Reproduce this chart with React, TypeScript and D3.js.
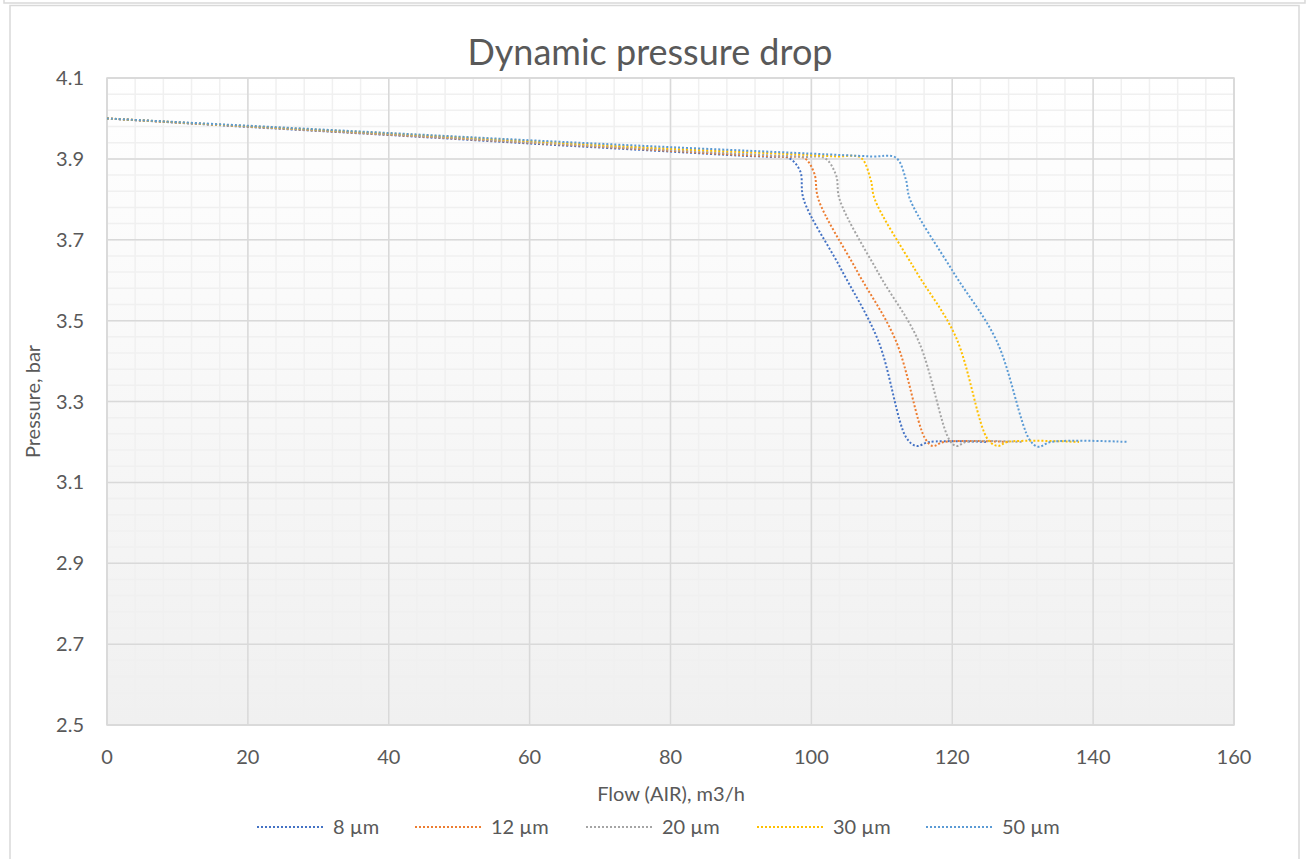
import React from "react";
import * as d3 from "d3";

const seriesNames = ["8 µm", "12 µm", "20 µm", "30 µm", "50 µm"];
const seriesColors = ["#4472C4", "#ED7D31", "#A5A5A5", "#FFC000", "#5B9BD5"];

const flow8 = [0, 20, 40, 60, 80, 90, 94, 96.8, 98.4, 98.9, 104.2, 109.5, 113.5, 114.9, 116.8, 125];
const p8 = [4.0, 3.979, 3.959, 3.938, 3.918, 3.908, 3.905, 3.902, 3.87, 3.8, 3.628, 3.45, 3.21, 3.19, 3.2, 3.2];
const flow12 = [0, 20, 40, 60, 80, 92, 96.5, 99, 100.4, 101, 106.5, 112, 116.1, 117.2, 118.8, 128];
const p12 = [4.0, 3.98, 3.96, 3.94, 3.92, 3.908, 3.905, 3.902, 3.865, 3.8, 3.622, 3.45, 3.21, 3.19, 3.2, 3.2];
const flow20 = [0, 20, 40, 60, 80, 94, 99, 101.9, 103.5, 104, 109.6, 115.2, 119.6, 120.6, 122, 130];
const p20 = [4.0, 3.98, 3.961, 3.941, 3.922, 3.909, 3.905, 3.902, 3.86, 3.8, 3.615, 3.45, 3.205, 3.19, 3.2, 3.2];
const flow30 = [0, 20, 40, 60, 80, 98, 103.5, 107, 108.4, 109, 114.75, 120.5, 125.1, 126.5, 127.8, 138];
const p30 = [4.0, 3.981, 3.963, 3.944, 3.925, 3.911, 3.906, 3.903, 3.85, 3.8, 3.625, 3.46, 3.205, 3.19, 3.2, 3.2];
const flow50 = [0, 20, 40, 60, 80, 100, 108.5, 112, 113.4, 114, 120.15, 126.3, 131.0, 132.2, 134, 145];
const p50 = [4.0, 3.982, 3.964, 3.946, 3.929, 3.913, 3.906, 3.903, 3.85, 3.8, 3.62, 3.45, 3.205, 3.188, 3.2, 3.2];

const xTicks = [0, 20, 40, 60, 80, 100, 120, 140, 160];
const yTicks = [2.5, 2.7, 2.9, 3.1, 3.3, 3.5, 3.7, 3.9, 4.1];

const title = "Dynamic pressure drop";
const xTitle = "Flow (AIR), m3/h";
const yTitle = "Pressure, bar";

const W = 1310;
const H = 859;
const plot = { left: 107, top: 78, right: 1234, bottom: 725 };
const FONT = "Lato, 'Open Sans', sans-serif";
const TEXT = "#595959";

export default function App() {
  const x = d3.scaleLinear().domain([0, 160]).range([plot.left, plot.right]);
  const y = d3.scaleLinear().domain([2.5, 4.1]).range([plot.bottom, plot.top]);

  const flows = [flow8, flow12, flow20, flow30, flow50];
  const pressures = [p8, p12, p20, p30, p50];
  const series = flows.map((f, i) => f.map((v, j) => [v, pressures[i][j]] as [number, number]));

  const line = d3
    .line<[number, number]>()
    .x((d) => x(d[0]))
    .y((d) => y(d[1]))
    .curve(d3.curveCatmullRom.alpha(0.5));

  const xMinor = d3.range(0, 160.001, 4);
  const yMinor = d3.range(0, 41).map((i) => 2.5 + i * 0.04);

  const legendX = [257, 415, 586, 757, 926];

  return (
    <svg
      width={W}
      height={H}
      style={{ position: "absolute", left: 0, top: 0, background: "#fff" }}
      fontFamily={FONT}
    >
      <defs>
        <linearGradient id="plotbg" x1="0" y1="0" x2="0" y2="1">
          <stop offset="0" stopColor="#ffffff" />
          <stop offset="1" stopColor="#f0f0f0" />
        </linearGradient>
      </defs>
      <rect x={0} y={0} width={W} height={H} fill="#fff" />
      {/* frames */}
      <path d="M4,0 V3 H1305 V0" fill="none" stroke="#d9d9d9" strokeWidth={1.5} />
      <rect x={10} y={5.5} width={1289} height={H + 10} fill="#fff" stroke="#d9d9d9" strokeWidth={1.5} />

      {/* plot background */}
      <rect
        x={plot.left}
        y={plot.top}
        width={plot.right - plot.left}
        height={plot.bottom - plot.top}
        fill="url(#plotbg)"
      />
      {/* minor gridlines */}
      {xMinor.map((v) => (
        <line key={"xm" + v} x1={x(v)} x2={x(v)} y1={plot.top} y2={plot.bottom} stroke="#f0f0f0" strokeWidth={1.5} />
      ))}
      {yMinor.map((v, i) => (
        <line key={"ym" + i} x1={plot.left} x2={plot.right} y1={y(v)} y2={y(v)} stroke="#f0f0f0" strokeWidth={1.5} />
      ))}
      {/* major gridlines */}
      {xTicks.map((v) => (
        <line key={"xM" + v} x1={x(v)} x2={x(v)} y1={plot.top} y2={plot.bottom} stroke="#d9d9d9" strokeWidth={1.5} />
      ))}
      {yTicks.map((v) => (
        <line key={"yM" + v} x1={plot.left} x2={plot.right} y1={y(v)} y2={y(v)} stroke="#d9d9d9" strokeWidth={1.5} />
      ))}
      <rect
        x={plot.left}
        y={plot.top}
        width={plot.right - plot.left}
        height={plot.bottom - plot.top}
        fill="none"
        stroke="#d9d9d9"
        strokeWidth={1.5}
      />

      {/* series */}
      {series.map((s, i) => (
        <path
          key={"s" + i}
          d={line(s) || ""}
          fill="none"
          stroke={seriesColors[i]}
          strokeWidth={2}
          strokeDasharray="2 2"
        />
      ))}

      {/* tick labels */}
      {yTicks.map((v) => (
        <text key={"yl" + v} x={84} y={y(v)} dy="0.35em" textAnchor="end" fontSize={20} fill={TEXT}>
          {v.toFixed(1)}
        </text>
      ))}
      {xTicks.map((v) => (
        <text key={"xl" + v} x={x(v)} y={757} dy="0.35em" textAnchor="middle" fontSize={20} fill={TEXT}>
          {v}
        </text>
      ))}

      {/* titles */}
      <text x={650} y={52} dy="0.35em" textAnchor="middle" fontSize={36} fill={TEXT}>
        {title}
      </text>
      <text x={671} y={794} dy="0.35em" textAnchor="middle" fontSize={20} fill={TEXT}>
        {xTitle}
      </text>
      <text
        transform={`translate(33,${(plot.top + plot.bottom) / 2}) rotate(-90)`}
        dy="0.35em"
        textAnchor="middle"
        fontSize={20}
        fill={TEXT}
      >
        {yTitle}
      </text>

      {/* legend */}
      {seriesNames.map((n, i) => (
        <g key={"lg" + i}>
          <line
            x1={legendX[i]}
            x2={legendX[i] + 66}
            y1={827}
            y2={827}
            stroke={seriesColors[i]}
            strokeWidth={2}
            strokeDasharray="2 2"
          />
          <text x={legendX[i] + 76} y={827} dy="0.35em" fontSize={20} fill={TEXT}>
            {n}
          </text>
        </g>
      ))}
    </svg>
  );
}
